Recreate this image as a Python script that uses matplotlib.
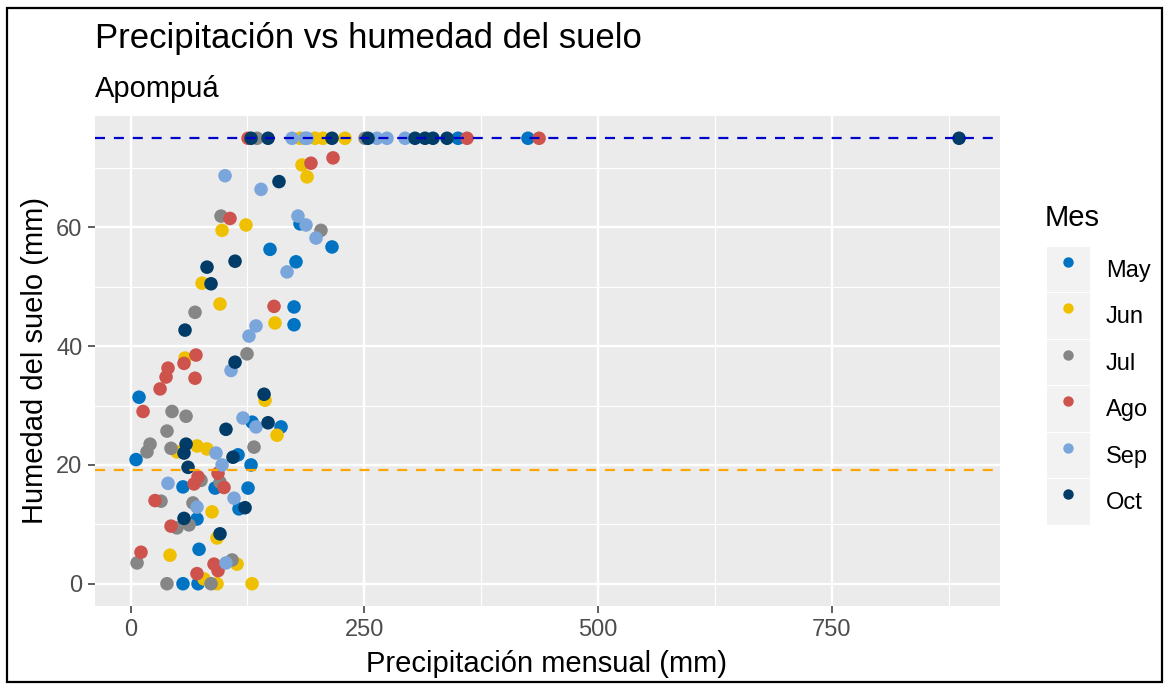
import numpy as np
import matplotlib.pyplot as plt
from matplotlib.patches import Rectangle
from matplotlib.lines import Line2D

plt.rcParams['font.family'] = ['Liberation Sans', 'DejaVu Sans']

#%% datos
meses   = ['May', 'Jun', 'Jul', 'Ago', 'Sep', 'Oct']
colores = ['#0073C2', '#EFC000', '#868686', '#CD534C', '#7AA6DC', '#003C67']

may_x = [350.3, 425.1, 181.3, 149.2, 215.5, 177.0, 174.9, 174.9, 9.1, 130.0, 161.0,
         5.9, 115.0, 128.9, 56.1, 90.4, 125.7, 116.0, 71.1, 73.3, 56.1, 72.2]
may_y = [75, 75, 60.6, 56.3, 56.7, 54.2, 46.6, 43.6, 31.4, 27.2, 26.4,
         20.9, 21.7, 20.0, 16.3, 16.1, 16.1, 12.6, 10.9, 5.8, 0, 0]

jun_x = [181.3, 197.3, 205.9, 229.4, 183.4, 188.8, 97.9, 123.5, 76.5, 95.7, 154.5, 58.3,
         143.9, 156.7, 71.1, 81.8, 49.7, 92.5, 87.2, 42.2, 113.9, 78.6, 92.5, 130.0]
jun_y = [75, 75, 75, 75, 70.5, 68.5, 59.5, 60.4, 50.6, 47.1, 43.9, 38.0,
         30.9, 25.0, 23.2, 22.7, 22.2, 7.7, 12.1, 4.8, 3.3, 0.8, 0, 0]

jul_x = [135.3, 250.8, 96.8, 203.7, 69.0, 124.6, 44.4, 59.4, 39.0, 20.9, 17.6, 43.3,
         132.1, 75.4, 95.7, 32.6, 66.8, 49.7, 62.6, 108.6, 7.0, 39.0, 86.1]
jul_y = [75, 75, 61.9, 59.5, 45.7, 38.7, 29.0, 28.2, 25.7, 23.5, 22.2, 22.8,
         23.0, 17.4, 17.1, 13.9, 13.6, 9.4, 9.9, 4.0, 3.5, 0, 0]

ago_x = [125.7, 359.9, 437.0, 193.0, 216.6, 106.4, 153.5, 70.0, 57.2, 40.1, 38.0, 69.0,
         31.6, 13.4, 72.2, 67.9, 93.6, 100.0, 26.2, 43.3, 11.2, 89.3, 93.6, 71.1]
ago_y = [75, 75, 75, 70.8, 71.7, 61.5, 46.7, 38.5, 37.1, 36.3, 34.8, 34.6,
         32.8, 29.0, 18.0, 16.8, 18.6, 16.2, 14.0, 9.7, 5.3, 3.3, 2.2, 1.7]

sep_x = [172.7, 186.6, 188.8, 263.6, 274.3, 293.6, 101.1, 139.6, 179.1, 187.7, 198.4, 167.4,
         134.2, 126.7, 107.5, 120.3, 134.2, 91.4, 97.9, 40.1, 110.7, 71.1, 102.1]
sep_y = [75, 75, 75, 75, 75, 75, 68.7, 66.4, 61.9, 60.4, 58.2, 52.5,
         43.4, 41.7, 35.9, 27.9, 26.4, 22.0, 20.0, 16.9, 14.4, 12.9, 3.5]

oct_x = [128.9, 147.1, 215.5, 254.0, 304.3, 315.0, 323.5, 338.5, 886.2, 158.8, 81.8, 111.8, 86.1,
         58.3, 111.8, 142.8, 102.1, 147.1, 59.4, 57.2, 109.6, 61.5, 122.5, 57.2, 95.7]
oct_y = [75, 75, 75, 75, 75, 75, 75, 75, 75, 67.7, 53.3, 54.3, 50.5,
         42.7, 37.3, 31.9, 26.0, 27.1, 23.5, 22.0, 21.3, 19.6, 12.8, 11.0, 8.4]

cc_max  = 75     # capacidad de campo
pmp     = 19.1   # punto de marchitez

xs = [may_x, jun_x, jul_x, ago_x, sep_x, oct_x]
ys = [may_y, jun_y, jul_y, ago_y, sep_y, oct_y]

#%% figura
W, H = 1169, 684
fig = plt.figure(figsize=(W/100, H/100), dpi=100)
fig.patch.set_facecolor('white')
fig.add_artist(Rectangle((7/W, 2/H), 1155/W, 674/H, transform=fig.transFigure,
                         fill=False, ec='black', lw=1.6))

ax = fig.add_axes([95/W, 1 - 606/H, 905/W, 490/H])
ax.set_facecolor('#EBEBEB')
for s in ax.spines.values():
    s.set_visible(False)

for x, y, c in zip(xs, ys, colores):
    ax.scatter(x, y, s=95, color=c, edgecolors='none', zorder=3)

ax.axhline(cc_max, color='#0000CD', lw=1.6, ls=(0, (4.5, 4)), zorder=4)
ax.axhline(pmp, color='#FFA500', lw=1.6, ls=(0, (4.5, 4)), zorder=4)

ax.set_xlim(-38, 930)
ax.set_ylim(-3.75, 78.75)
ax.set_xticks([0, 250, 500, 750])
ax.set_xticks([125, 375, 625, 875], minor=True)
ax.set_yticks([0, 20, 40, 60])
ax.set_yticks([10, 30, 50, 70], minor=True)
ax.grid(which='major', color='white', lw=1.7, zorder=0)
ax.grid(which='minor', color='white', lw=0.85, zorder=0)
ax.set_axisbelow(True)
ax.tick_params(which='major', length=5, width=1.1, color='#333333',
               labelsize=17, labelcolor='#4D4D4D', pad=4)
ax.tick_params(which='minor', length=0)

fig.text(95/W, 1 - 48/H, 'Precipitación vs humedad del suelo', fontsize=25, va='baseline')
fig.text(95/W, 1 - 97/H, 'Apompuá', fontsize=21, va='baseline')
fig.text(547/W, 1 - 672/H, 'Precipitación mensual (mm)', fontsize=21, va='baseline', ha='center')
fig.text(35/W, 1 - 361/H, 'Humedad del suelo (mm)', fontsize=21, va='center', ha='center',
         rotation=90)

#%% leyenda
fig.text(1045/W, 1 - 226/H, 'Mes', fontsize=21, va='baseline')
handles = []
for c in colores:
    fondo = Rectangle((0, 0), 1, 1, fc='#F2F2F2', ec='none')
    punto = Line2D([], [], ls='none', marker='o', ms=7.5, color=c, mec='none')
    handles.append((fondo, punto))
leg = fig.legend(handles, meses, loc='upper left', bbox_to_anchor=(1047/W, 1 - 247/H),
                 frameon=False, fontsize=17, borderaxespad=0,
                 handlelength=1.82, handleheight=2.56, labelspacing=0.06,
                 handletextpad=0.68, borderpad=0)

fig.savefig('out.png', dpi=100)
